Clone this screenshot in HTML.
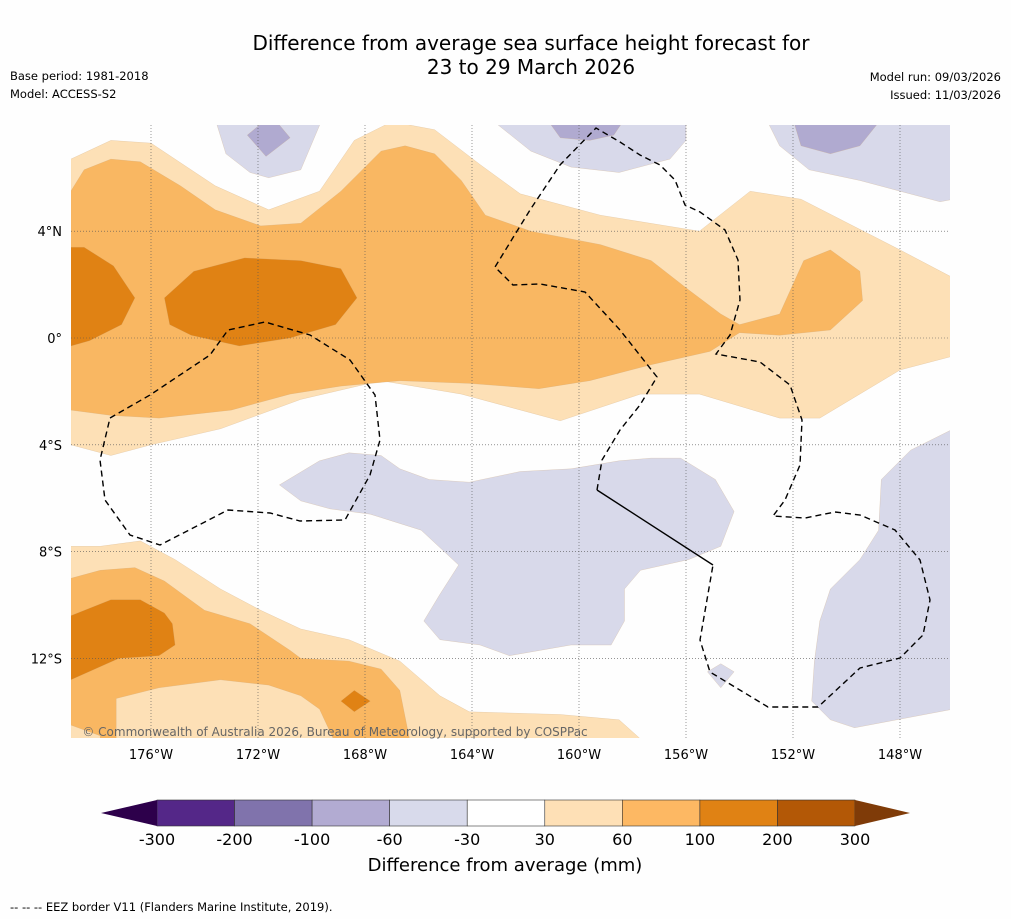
<!DOCTYPE html>
<html><head><meta charset="utf-8"><style>
body{margin:0;background:#fff;width:1011px;height:919px;overflow:hidden;font-family:"DejaVu Sans","Liberation Sans",sans-serif}
</style></head><body>
<svg id="svg" width="1011" height="919" xmlns="http://www.w3.org/2000/svg" font-family="DejaVu Sans, Liberation Sans, sans-serif">
<rect width="1011" height="919" fill="#fefefe"/>
<text x="531" y="50" font-size="20" text-anchor="middle" fill="#000">Difference from average sea surface height forecast for</text>
<text x="531" y="74" font-size="20" text-anchor="middle" fill="#000">23 to 29 March 2026</text>
<text x="10" y="80" font-size="11.5">Base period: 1981-2018</text>
<text x="10" y="98" font-size="11.5">Model: ACCESS-S2</text>
<text x="1001" y="81" font-size="11.5" text-anchor="end">Model run: 09/03/2026</text>
<text x="1001" y="99" font-size="11.5" text-anchor="end">Issued: 11/03/2026</text>
<defs><clipPath id="mapclip"><rect x="71" y="125" width="879" height="613"/></clipPath></defs>
<g id="map" clip-path="url(#mapclip)"></g>
<g id="grid"></g>
<g id="eez" clip-path="url(#mapclip)" fill="none" stroke="#000" stroke-width="1.4">
<path d="M110,418 L150,395 L210,355 L228,330 L265,322 L310,335 L350,360 L375,395 L380,440 L370,475 L345,520 L300,521 L270,513 L228,510 L160,545 L130,535 L105,500 L100,460 Z" stroke-dasharray="6,4"/>
<path d="M597,490 L602,460 L620,430 L640,405 L657,377 L620,330 L585,292 L540,284 L513,285 L495,267 L530,210 L560,165 L596,128 L620,142 L640,155 L660,165 L675,180 L685,205 L700,212 L725,230 L738,260 L740,300 L730,335 L716,354 L760,362 L790,385 L802,420 L800,465 L785,500 L773,516 L805,518 L835,512 L860,515 L895,530 L920,560 L930,600 L923,635 L900,658 L860,668 L818,707 L768,707 L710,672 L700,640 L713,565" stroke-dasharray="6,4"/>
<path d="M597,490 L713,565"/>
</g>
<text x="335" y="736" font-size="12" text-anchor="middle" fill="#666">© Commonwealth of Australia 2026, Bureau of Meteorology, supported by COSPPac</text>
<g id="axes"></g>
<g id="cbar"></g>
<text x="505" y="871" font-size="18" text-anchor="middle">Difference from average (mm)</text>
<text x="10" y="911" font-size="11.5">--  --  -- EEZ border V11 (Flanders Marine Institute, 2019).</text>
</svg>
<script>
const NS="http://www.w3.org/2000/svg";
// lon in degrees east of 180°W, lat in degrees
const lonTicks=[4,8,12,16,20,24,28,32];
const lonTickLabels=["176°W","172°W","168°W","164°W","160°W","156°W","152°W","148°W"];
const latTicks=[4,0,-4,-8,-12];
const latTickLabels=["4°N","0°","4°S","8°S","12°S"];
const cbLevels=["-300","-200","-100","-60","-30","30","60","100","200","300"];
const cbColors=["#542788","#8073ac","#b2abd2","#d8daeb","#ffffff","#fee0b6","#fdb863","#e08214","#b35806"];
const cbExtColors=["#2d004b","#7f3b08"];
const C={lo:"#fde0b6",mo:"#f9b762",do:"#e08214",lp:"#d8d9ea",mp:"#b0aad0"};
const lightOrangeTop=[[1,6.7],[2.5,7.4],[4,7.3],[6.4,5.7],[8.4,4.8],[10.3,5.5],[11.6,7.4],[13,8.1],[14.6,7.8],[16.3,6.5],[17.8,5.4],[20.8,4.6],[24.5,4.0],[26.4,5.5],[28.3,5.2],[32,3.3],[33.9,2.3],[33.9,-0.7],[32,-1.2],[29,-3.0],[27.5,-3.0],[24.5,-2.1],[22.3,-2.1],[19.3,-3.1],[15.6,-2.1],[12.6,-1.6],[9.6,-2.3],[6.6,-3.4],[4,-4.0],[2.5,-4.4],[1,-4.0]];
const midOrangeTop=[[1,5.5],[1.5,6.3],[2.5,6.7],[3.6,6.6],[5.1,5.7],[6.4,4.8],[8.1,4.2],[9.6,4.3],[11.1,5.5],[12.6,7.0],[13.5,7.2],[14.6,6.9],[15.6,5.9],[16.5,4.6],[18.2,4.0],[20.8,3.5],[22.7,2.9],[24.1,1.8],[25.3,0.9],[26,0.5],[27.5,0.9],[28.4,2.9],[29.4,3.3],[30.5,2.5],[30.6,1.4],[29.4,0.3],[27.5,0.1],[26,0.2],[24.9,-0.5],[22.7,-1.0],[20.4,-1.6],[18.5,-1.9],[15.9,-1.7],[13.3,-1.6],[11.1,-1.8],[9.2,-2.1],[7,-2.7],[4.3,-3.0],[2.5,-2.9],[1,-2.7]];
const darkOrangeWest=[[1,3.4],[1.5,3.4],[2.6,2.7],[3.4,1.5],[2.9,0.5],[1.7,-0.1],[1,-0.3]];
const darkOrangeCentral=[[4.5,1.5],[5.6,2.5],[7.5,3.0],[9.6,2.9],[11.1,2.6],[11.7,1.5],[10.9,0.5],[9.2,0],[7.3,-0.3],[5.5,0.1],[4.7,0.5]];
const lightOrangeSW=[[1,-7.8],[2.1,-7.8],[3.6,-7.6],[4.9,-8.3],[6.6,-9.4],[8.1,-10.2],[9.6,-10.9],[11.4,-11.3],[13.3,-12.1],[14.8,-13.4],[15.9,-14.0],[19.3,-14.1],[21.5,-14.3],[22.5,-15.2],[1,-15.2]];
const midOrangeSW=[[1,-9.0],[2.1,-8.7],[3.4,-8.6],[4.5,-9.1],[6,-10.2],[7.7,-10.7],[9.2,-11.7],[9.6,-12],[11.4,-12.1],[12.6,-12.4],[13.3,-13.2],[13.7,-15.2],[1,-15.2]];
const lightOrangeInner=[[2.7,-13.5],[4.3,-13.1],[6.6,-12.8],[8.4,-13.0],[9.6,-13.4],[10.3,-13.9],[10.9,-15.2],[2.7,-15.2]];
const lightOrangeCorner=[[1,-14.5],[2.1,-14.9],[2.1,-15.2],[1,-15.2]];
const darkOrangeSW=[[1,-10.4],[2.5,-9.8],[3.6,-9.8],[4.5,-10.3],[4.8,-10.7],[4.9,-11.5],[4.3,-11.9],[2.8,-12],[1,-12.8]];
const darkOrangeSmall=[[11.1,-13.6],[11.6,-13.2],[12.2,-13.6],[11.6,-14.0]];
const lightPurpleTopW=[[6.4,8.2],[6.8,6.9],[7.7,6.2],[8.4,6.0],[9.6,6.3],[10.4,8.2]];
const midPurpleTopW=[[7.6,7.6],[8.2,8.1],[8.7,8.1],[9.2,7.5],[8.3,6.8]];
const lightPurpleTopC=[[16.7,8.2],[18.2,7.0],[19.7,6.4],[21.5,6.2],[23.4,6.7],[24,7.4],[24,8.2]];
const midPurpleTopC=[[18.8,8.2],[19.3,7.5],[20.4,7.4],[21.3,7.6],[21.7,8.2]];
const lightPurpleTopE=[[27,8.2],[27.5,7.2],[28.6,6.3],[30.5,5.9],[32,5.5],[33.5,5.1],[34,5.2],[34,8.2]];
const midPurpleTopE=[[28,8.2],[28.3,7.2],[29.4,6.9],[30.5,7.2],[31.3,8.2]];
const lightPurpleCentral=[[8.8,-5.5],[10.3,-4.6],[11.4,-4.3],[12.6,-4.4],[13.3,-4.9],[14.4,-5.3],[15.9,-5.4],[17.8,-5.0],[19.7,-4.9],[21.5,-4.6],[22.7,-4.5],[23.8,-4.5],[25.1,-5.3],[25.8,-6.5],[25.3,-7.8],[24.1,-8.3],[22.3,-8.7],[21.7,-9.4],[21.7,-10.6],[21.2,-11.5],[19.7,-11.5],[17.4,-11.9],[16.3,-11.5],[14.8,-11.3],[14.2,-10.6],[14.8,-9.6],[15.5,-8.5],[14.1,-7.2],[12.2,-6.6],[10.7,-6.4],[9.6,-6.1]];
const lightPurpleEast=[[34,-3.4],[32.4,-4.2],[31.3,-5.3],[31.2,-7.2],[30.5,-8.3],[29.4,-9.4],[29,-10.6],[28.8,-12.1],[28.7,-13.6],[29.4,-14.3],[30.3,-14.6],[34,-13.9]];
const lightPurpleSmall=[[24.8,-12.5],[25.3,-12.2],[25.8,-12.5],[25.3,-13.1]];
const layers=[
 [lightOrangeTop,C.lo,"light-orange-band-north"],[midOrangeTop,C.mo,"mid-orange-band-north"],
 [darkOrangeWest,C.do,"dark-orange-west"],[darkOrangeCentral,C.do,"dark-orange-central"],
 [lightOrangeSW,C.lo,"light-orange-southwest"],[midOrangeSW,C.mo,"mid-orange-southwest"],
 [lightOrangeInner,C.lo,"light-orange-inner"],[lightOrangeCorner,C.lo,"light-orange-corner"],
 [darkOrangeSW,C.do,"dark-orange-southwest"],[darkOrangeSmall,C.do,"dark-orange-small"],
 [lightPurpleTopW,C.lp,"light-purple-north-west"],[midPurpleTopW,C.mp,"mid-purple-north-west"],
 [lightPurpleTopC,C.lp,"light-purple-north-central"],[midPurpleTopC,C.mp,"mid-purple-north-central"],
 [lightPurpleTopE,C.lp,"light-purple-north-east"],[midPurpleTopE,C.mp,"mid-purple-north-east"],
 [lightPurpleCentral,C.lp,"light-purple-central"],[lightPurpleEast,C.lp,"light-purple-east"],[lightPurpleSmall,C.lp,"light-purple-small"]];
function X(lon){return 44+lon*26.75;}
function Y(lat){return 338-lat*26.7;}
const map=document.getElementById('map');
for(const [pts,col,name] of layers){
 const p=document.createElementNS(NS,'polygon');
 p.setAttribute('points',pts.map(q=>X(q[0]).toFixed(1)+','+Y(q[1]).toFixed(1)).join(' '));
 p.setAttribute('fill',col);
 p.setAttribute('stroke','#c8a070');p.setAttribute('stroke-width','0.4');p.setAttribute('stroke-opacity','0.5');
 
 
 map.appendChild(p);
}
const grid=document.getElementById('grid'),axes=document.getElementById('axes');
lonTicks.forEach((v,i)=>{
 const l=document.createElementNS(NS,'line');
 l.setAttribute('x1',X(v));l.setAttribute('x2',X(v));l.setAttribute('y1',125);l.setAttribute('y2',738);
 l.setAttribute('stroke','#555');l.setAttribute('stroke-width','0.6');l.setAttribute('stroke-dasharray','1,2');
 
 
 grid.appendChild(l);
 const t=document.createElementNS(NS,'text');
 t.setAttribute('x',X(v));t.setAttribute('y',759);t.setAttribute('font-size','13');t.setAttribute('text-anchor','middle');
 t.textContent=lonTickLabels[i];
 
 
 axes.appendChild(t);
});
latTicks.forEach((v,i)=>{
 const l=document.createElementNS(NS,'line');
 l.setAttribute('x1',71);l.setAttribute('x2',950);l.setAttribute('y1',Y(v));l.setAttribute('y2',Y(v));
 l.setAttribute('stroke','#555');l.setAttribute('stroke-width','0.6');l.setAttribute('stroke-dasharray','1,2');
 
 
 grid.appendChild(l);
 const t=document.createElementNS(NS,'text');
 t.setAttribute('x',62);t.setAttribute('y',Y(v)+5);t.setAttribute('font-size','13');t.setAttribute('text-anchor','end');
 t.textContent=latTickLabels[i];
 
 
 axes.appendChild(t);
});
// colorbar
const cb=document.getElementById('cbar');
const cx0=157,cx1=855,cy=800,ch=26;
const cw=(cx1-cx0)/cbColors.length;
function cbX(i){return cx0+i*cw;}
cbColors.forEach((c,i)=>{
 const r=document.createElementNS(NS,'rect');
 r.setAttribute('x',cbX(i));r.setAttribute('y',cy);r.setAttribute('width',cw);r.setAttribute('height',ch);
 r.setAttribute('fill',c);r.setAttribute('stroke','#333');r.setAttribute('stroke-width','0.6');
 
 
 cb.appendChild(r);
});
const e1=document.createElementNS(NS,'polygon');
e1.setAttribute('points',`${cx0},${cy} ${cx0},${cy+ch} 101,${cy+ch/2}`);e1.setAttribute('fill',cbExtColors[0]);


cb.appendChild(e1);
const xe=cbX(cbColors.length);
const e2=document.createElementNS(NS,'polygon');
e2.setAttribute('points',`${xe},${cy} ${xe},${cy+ch} 910,${cy+ch/2}`);e2.setAttribute('fill',cbExtColors[1]);


cb.appendChild(e2);
cbLevels.forEach((s,i)=>{
 const t=document.createElementNS(NS,'text');
 t.setAttribute('x',cbX(i));t.setAttribute('y',845);t.setAttribute('font-size','16');t.setAttribute('text-anchor','middle');
 t.textContent=s;
 
 
 cb.appendChild(t);
});
</script>
</body></html>
